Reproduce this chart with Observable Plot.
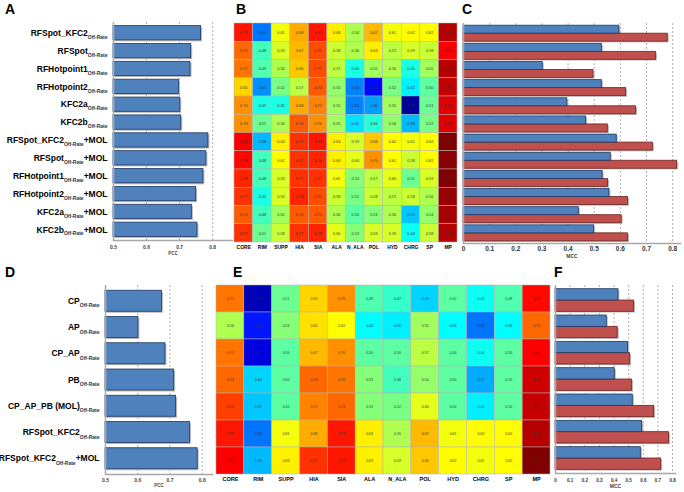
<!DOCTYPE html>
<html><head><meta charset="utf-8">
<script src="https://cdn.jsdelivr.net/npm/d3@7"></script>
<script src="https://cdn.jsdelivr.net/npm/@observablehq/plot@0.6"></script>
<style>
body{margin:0;background:#fff;font-family:"Liberation Sans",Arial,sans-serif}
#root{position:relative;width:684px;height:492px;overflow:hidden;background:#fff}
.panel{position:absolute}
.lab{position:absolute;font:bold 14px/14px "Liberation Sans",Arial,sans-serif;color:#000}
</style></head><body><div id="root"></div>
<script>
// ---------------- data ----------------
const rowsA = ["RFSpot_KFC2","RFSpot","RFHotpoint1","RFHotpoint2","KFC2a","KFC2b",
  "RFSpot_KFC2 +MOL","RFSpot +MOL","RFHotpoint1 +MOL","RFHotpoint2 +MOL","KFC2a +MOL","KFC2b +MOL"];
const pccA = [0.765,0.735,0.733,0.698,0.702,0.705,0.787,0.781,0.772,0.750,0.737,0.754];
const featureCols = ["CORE","RIM","SUPP","HIA","SIA","ALA","N_ALA","POL","HYD","CHRG","SP","MP"];
const valuesB = [
  [0.79,0.33,0.61,0.68,0.79,0.63,0.56,0.67,0.61,0.62,0.62,0.86],
  [0.73,0.48,0.59,0.67,0.75,0.58,0.56,0.63,0.57,0.59,0.58,0.81],
  [0.72,0.49,0.56,0.66,0.75,0.57,0.45,0.55,0.56,0.45,0.55,0.86],
  [0.65,0.35,0.52,0.57,0.74,0.54,0.34,0.25,0.52,0.42,0.50,0.85],
  [0.70,0.45,0.45,0.68,0.71,0.55,0.34,0.36,0.55,0.17,0.51,0.83],
  [0.70,0.51,0.56,0.74,0.70,0.55,0.41,0.46,0.54,0.38,0.52,0.83],
  [0.81,0.38,0.63,0.77,0.79,0.63,0.59,0.66,0.62,0.61,0.62,0.90],
  [0.80,0.48,0.62,0.77,0.78,0.63,0.60,0.70,0.62,0.58,0.62,0.89],
  [0.78,0.48,0.59,0.77,0.77,0.61,0.53,0.57,0.60,0.51,0.59,0.90],
  [0.77,0.45,0.59,0.78,0.75,0.58,0.52,0.58,0.57,0.58,0.56,0.88],
  [0.74,0.48,0.55,0.74,0.74,0.56,0.50,0.53,0.56,0.39,0.54,0.87],
  [0.77,0.51,0.58,0.77,0.78,0.60,0.53,0.59,0.59,0.44,0.58,0.86]
];
const mccBlueC = [0.596,0.529,0.303,0.529,0.397,0.469,0.586,0.563,0.532,0.558,0.441,0.499];
const mccRedC  = [0.781,0.736,0.497,0.622,0.660,0.552,0.724,0.817,0.553,0.629,0.605,0.629];

const rowsD = ["CP","AP","CP_AP","PB","CP_AP_PB (MOL)","RFSpot_KFC2","RFSpot_KFC2 +MOL"];
const pccD = [0.675,0.602,0.686,0.713,0.719,0.762,0.786];
const valuesE = [
  [0.72,0.19,0.51,0.65,0.70,0.49,0.47,0.40,0.50,0.44,0.49,0.80],
  [0.56,0.26,0.53,0.64,0.62,0.43,0.42,0.55,0.43,0.33,0.43,0.73],
  [0.72,0.22,0.50,0.67,0.70,0.50,0.50,0.57,0.50,0.44,0.50,0.81],
  [0.73,0.40,0.50,0.73,0.72,0.53,0.48,0.54,0.50,0.37,0.50,0.84],
  [0.76,0.39,0.50,0.71,0.73,0.53,0.52,0.60,0.50,0.42,0.50,0.85],
  [0.79,0.33,0.61,0.68,0.79,0.63,0.56,0.67,0.61,0.62,0.62,0.86],
  [0.81,0.38,0.63,0.77,0.79,0.63,0.59,0.66,0.62,0.61,0.62,0.90]
];
const mccBlueF = [0.430,0.350,0.496,0.405,0.528,0.592,0.583];
const mccRedF  = [0.537,0.425,0.510,0.523,0.674,0.775,0.722];

const ticksPCC = [0.5,0.6,0.7,0.8];
const ticksMCC = [0,0.1,0.2,0.3,0.4,0.5,0.6,0.7,0.8];

// ---------------- styles ----------------
const FONT = '"Liberation Sans", Arial, sans-serif';
const BLUE="#4f81bd", BLUE_S="#1f3a63", RED="#c0504d", RED_S="#6e2624", SHADOW="#b8b8b8";
const GRID="#9a9a9a", AXIS="#a8a8a8";
const baseStyle = {fontFamily: FONT, background: "transparent", overflow: "visible"};

function jet(t){
  const c = v => Math.max(0, Math.min(1, v));
  const r = c(1.5 - Math.abs(4*t-3)), g = c(1.5 - Math.abs(4*t-2)), b = c(1.5 - Math.abs(4*t-1));
  return `rgb(${Math.round(r*255)},${Math.round(g*255)},${Math.round(b*255)})`;
}
const colorOpts = {type: "linear", domain: [0.15, 0.9], interpolate: jet};

function fmtLabel(r){
  const mol = r.endsWith(" +MOL");
  const base = mol ? r.slice(0, -5) : r;
  return base + "§Off-Rate§" + (mol ? "+MOL" : "");
}
function richLabels(svg, subSize, shift){
  d3.select(svg).selectAll("text").each(function(){
    const t = this.textContent;
    if (!t.includes("§")) return;
    const [a, b, c] = t.split("§");
    const s = d3.select(this); s.text(null);
    s.append("tspan").text(a);
    s.append("tspan").attr("font-size", subSize).attr("fill", "#333").attr("dy", shift).text(b);
    if (c) s.append("tspan").attr("dy", -shift).text(c);
  });
}
function place(node, left, top){
  const d = document.createElement("div");
  d.className = "panel"; d.style.left = left + "px"; d.style.top = top + "px";
  d.appendChild(node); document.getElementById("root").appendChild(d);
}
function label(txt, left, top){
  const d = document.createElement("div");
  d.className = "lab"; d.style.left = left + "px"; d.style.top = top + "px"; d.textContent = txt;
  document.getElementById("root").appendChild(d);
}

// ---------------- panel A / D (PCC bars) ----------------
function pccPanel(rows, vals, o){
  const data = rows.map((r, i) => ({row: r, v: vals[i]}));
  const x0 = o.domain[0];
  const svg = Plot.plot({
    width: o.width, height: o.height, marginLeft: o.ml, marginRight: o.mr, marginTop: o.mt, marginBottom: o.mb,
    style: baseStyle,
    x: {domain: o.domain},
    y: {domain: rows, padding: o.pad, round: false},
    marks: [
      Plot.gridX({ticks: ticksPCC.slice(1), stroke: GRID, strokeOpacity: 1, strokeDasharray: "2,2", strokeWidth: 0.8}),
      Plot.barX(data, {y: "row", x1: x0, x2: "v", fill: SHADOW, dx: 1.5, dy: 1.5}),
      Plot.barX(data, {y: "row", x1: x0, x2: "v", fill: BLUE, stroke: BLUE_S, strokeWidth: 0.8}),
      Plot.ruleX([x0], {stroke: AXIS, strokeWidth: 1.5}),
      Plot.frame({anchor: "bottom", stroke: AXIS, strokeWidth: 1.5}),
      Plot.axisX({ticks: ticksPCC, tickSize: 0, tickPadding: o.tp, fontSize: 5, fontWeight: "bold", fill: "#444", label: null, tickFormat: ".1f"}),
      Plot.axisY({tickSize: 0, tickPadding: 6, fontSize: o.yfs, fontWeight: "bold", fill: "#000", label: null, tickFormat: fmtLabel}),
      Plot.text(["PCC"], {text: d => d, frameAnchor: "bottom", dy: o.ldy, fontSize: 4.5, fontWeight: "bold", fill: "#444"})
    ]
  });
  richLabels(svg, o.sfs, o.shift);
  return svg;
}

// ---------------- panel B / E (heatmaps) ----------------
function heatPanel(rows, matrix, o){
  const data = rows.flatMap((r, i) => featureCols.map((c, j) => ({row: r, col: c, v: matrix[i][j]})));
  return Plot.plot({
    width: o.width, height: o.height, marginLeft: o.ml, marginRight: o.mr, marginTop: o.mt, marginBottom: o.mb,
    style: baseStyle,
    x: {domain: featureCols, padding: 0, round: false},
    y: {domain: rows, padding: 0, round: false, axis: null},
    color: colorOpts,
    marks: [
      Plot.cell(data, {x: "col", y: "row", fill: "v", stroke: "#b4b4b4", strokeWidth: 0.5, inset: 0}),
      Plot.text(data, {x: "col", y: "row", text: d => d.v.toFixed(2), fontSize: o.cfs, fill: "#333"}),
      Plot.axisX({tickSize: 0, tickPadding: o.tp, fontSize: o.lfs, fontWeight: "bold", fill: "#000", label: null})
    ]
  });
}

// ---------------- panel C / F (MCC paired bars) ----------------
function mccPanel(rows, blue, red, o){
  const data = rows.map((r, i) => ({row: r, b: blue[i], r: red[i]}));
  const rangePx = o.height - o.mt - o.mb;
  const step = rangePx / (rows.length + o.pad);
  const half = step * (1 - o.pad) / 2;
  return Plot.plot({
    width: o.width, height: o.height, marginLeft: o.ml, marginRight: o.mr, marginTop: o.mt, marginBottom: o.mb,
    style: baseStyle,
    x: {domain: o.domain},
    y: {domain: rows, padding: o.pad, round: false, axis: null},
    marks: [
      Plot.gridX({ticks: ticksMCC.slice(1), stroke: GRID, strokeOpacity: 1, strokeDasharray: "2,2", strokeWidth: 0.8}),
      Plot.barX(data, {y: "row", x: "b", insetBottom: half, fill: SHADOW, dx: 1.5, dy: 1.2}),
      Plot.barX(data, {y: "row", x: "r", insetTop: half, fill: SHADOW, dx: 1.5, dy: 1.2}),
      Plot.barX(data, {y: "row", x: "r", insetTop: half, fill: RED, stroke: RED_S, strokeWidth: 0.8}),
      Plot.barX(data, {y: "row", x: "b", insetBottom: half, fill: BLUE, stroke: BLUE_S, strokeWidth: 0.8}),
      Plot.ruleX([0], {stroke: AXIS, strokeWidth: 1.5}),
      Plot.frame({anchor: "bottom", stroke: AXIS, strokeWidth: 1.5}),
      Plot.axisX({ticks: ticksMCC, tickSize: 0, tickPadding: o.tp, fontSize: o.tfs, fontWeight: "bold", fill: "#333", label: null,
        tickFormat: d => d === 0 ? "0" : d3.format(".1f")(d)}),
      Plot.text(["MCC"], {text: d => d, frameAnchor: "bottom", dy: o.ldy, fontSize: 5, fontWeight: "bold", fill: "#444"})
    ]
  });
}

// ---------------- layout ----------------
place(pccPanel(rowsA, pccA, {width: 236, height: 262, ml: 113, mr: 4, mt: 22, mb: 22, domain: [0.5, 0.86], pad: 0.2, tp: 4.5, ldy: 14, yfs: 8.5, sfs: 5, shift: 3}), 0, 0);
place(heatPanel(rowsA, valuesB, {width: 232, height: 262, ml: 4, mr: 5, mt: 23, mb: 20, cfs: 3.8, lfs: 5, tp: 3}), 230, 0);
place(mccPanel(rowsA, mccBlueC, mccRedC, {width: 244, height: 262, ml: 23, mr: 4, mt: 23, mb: 19, domain: [0, 0.83], pad: 0.12, tp: 3, tfs: 6.5, ldy: 14}), 440, 0);

place(pccPanel(rowsD, pccD, {width: 216, height: 230, ml: 105, mr: 4, mt: 23, mb: 18, domain: [0.5, 0.832], pad: 0.2, tp: 3.5, ldy: 12, yfs: 8.5, sfs: 5, shift: 3.5}), 0, 262);
place(heatPanel(rowsD, valuesE, {width: 342, height: 230, ml: 4, mr: 4, mt: 23, mb: 18, cfs: 3.5, lfs: 5.5, tp: 3}), 212, 262);
place(mccPanel(rowsD, mccBlueF, mccRedF, {width: 131, height: 230, ml: 7, mr: 4, mt: 23, mb: 19, domain: [0, 0.82], pad: 0.14, tp: 5, tfs: 4.5, ldy: 14}), 548, 262);

label("A", 5, 2); label("B", 236, 2); label("C", 462, 2);
label("D", 5, 265); label("E", 233, 265); label("F", 554, 265);
</script></body></html>
